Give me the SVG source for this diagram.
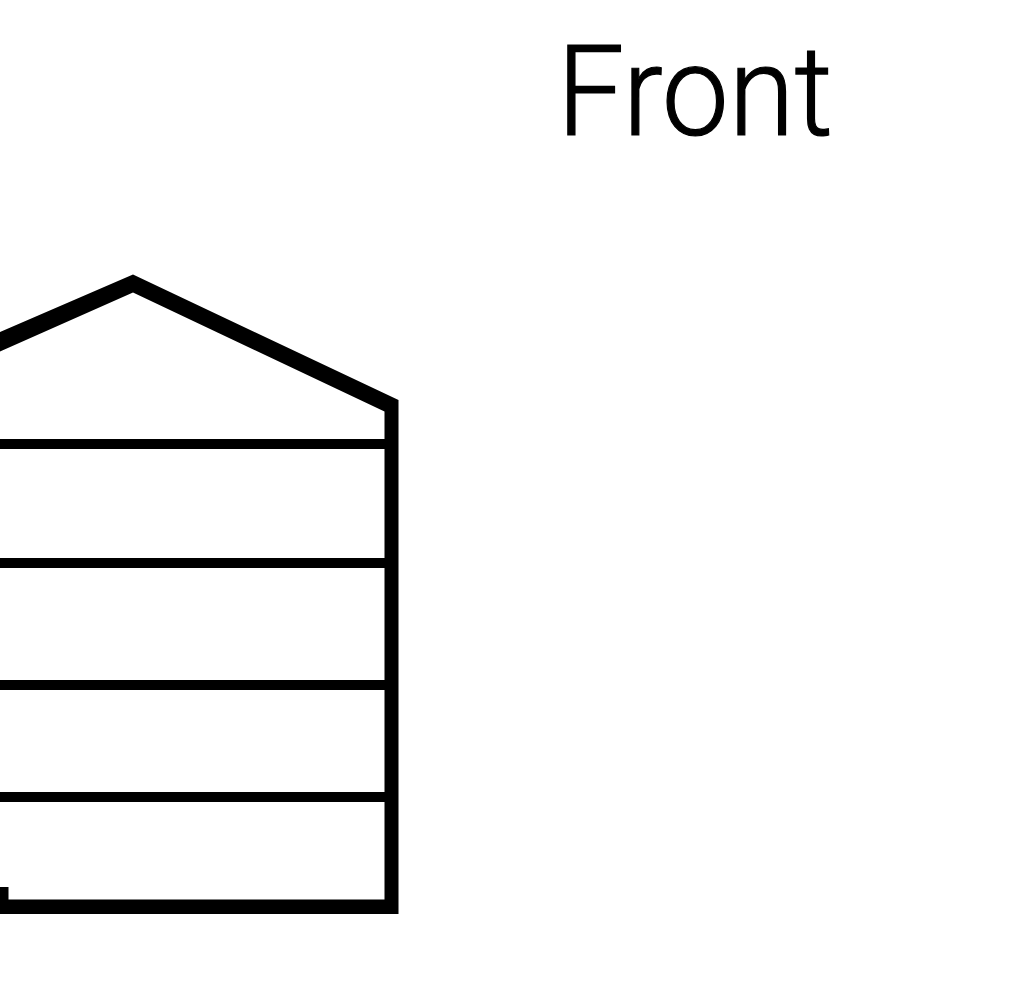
<svg xmlns="http://www.w3.org/2000/svg" width="1024" height="1000" viewBox="0 0 1024 1000">
<style>.f{fill:none;stroke:#000;stroke-width:10}.t{font-family:"Roboto","Liberation Sans",sans-serif;font-size:127px;font-weight:300;fill:#000;stroke:#000;stroke-width:1.200}</style>
<rect width="1024" height="1000" fill="#fff"/>
<path fill="#000" d="M0 332L133 274.500L398.500 400V914H0V887H8.500V899.500H384.500V411.500L133 292.500L0 351.500Z"/>
<path class="f" d="M0 444H385M0 563H385M0 685H385M0 797H385"/>
<text class="t" x="557" y="135" textLength="276" lengthAdjust="spacingAndGlyphs">Front</text>
</svg>
